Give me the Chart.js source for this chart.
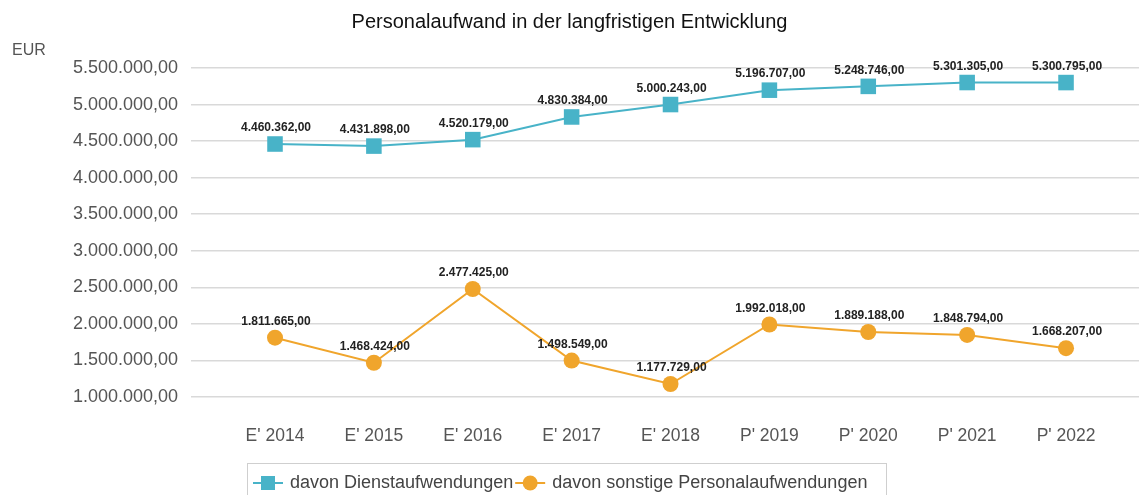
<!DOCTYPE html>
<html>
<head>
<meta charset="utf-8">
<script src="https://cdn.jsdelivr.net/npm/chart.js@4"></script>
<style>
  html, body { margin: 0; padding: 0; background: #fff; }
  #wrap { width: 1139px; height: 495px; }
</style>
</head>
<body>
<div id="wrap"><canvas id="lineChart" width="1139" height="495"></canvas></div>
<script>
// Kategorien und Werte
var jahre = ["E' 2014", "E' 2015", "E' 2016", "E' 2017", "E' 2018", "P' 2019", "P' 2020", "P' 2021", "P' 2022"];
var dienstaufwendungen = [4460362, 4431898, 4520179, 4830384, 5000243, 5196707, 5248746, 5301305, 5300795];
var sonstigePersonal = [1811665, 1468424, 2477425, 1498549, 1177729, 1992018, 1889188, 1848794, 1668207];
var serienNamen = ['davon Dienstaufwendungen', 'davon sonstige Personalaufwendungen'];

var FONT = "'Liberation Sans', Arial, sans-serif";
var TEAL = '#48b3c8';
var ORANGE = '#f0a52c';

function fmt(v) {
  return v.toLocaleString('de-DE', { minimumFractionDigits: 2, maximumFractionDigits: 2 });
}

// Werte als Label ueber die Punkte schreiben
var wertLabels = {
  id: 'wertLabels',
  afterDatasetsDraw: function (chart) {
    var ctx = chart.ctx;
    ctx.save();
    ctx.font = 'bold 12px ' + FONT;
    ctx.fillStyle = '#222';
    ctx.textAlign = 'center';
    ctx.textBaseline = 'middle';
    chart.data.datasets.forEach(function (ds, i) {
      var meta = chart.getDatasetMeta(i);
      meta.data.forEach(function (pt, j) {
        ctx.fillText(fmt(ds.data[j].y), pt.x + 1, pt.y - 16);
      });
    });
    ctx.restore();
  }
};

// EUR-Beschriftung und Legende mit Rahmen
var extras = {
  id: 'extras',
  afterDraw: function (chart) {
    var ctx = chart.ctx;
    ctx.save();
    ctx.font = '16px ' + FONT;
    ctx.fillStyle = '#555';
    ctx.textBaseline = 'middle';
    ctx.textAlign = 'left';
    ctx.fillText('EUR', 12, 51);

    // Legende
    ctx.font = '18px ' + FONT;
    var farben = [TEAL, ORANGE];
    var symW = 30, gap = 7, itemGap = 2;
    var x0 = 247, y = 483;
    ctx.strokeStyle = '#cfcfcf';
    ctx.lineWidth = 1;
    ctx.strokeRect(x0 + 0.5, 463.5, 639, 40);
    var x = x0 + 6;
    serienNamen.forEach(function (n, i) {
      ctx.strokeStyle = farben[i];
      ctx.fillStyle = farben[i];
      ctx.lineWidth = 2;
      ctx.beginPath();
      ctx.moveTo(x, y);
      ctx.lineTo(x + symW, y);
      ctx.stroke();
      if (i === 0) {
        ctx.fillRect(x + symW / 2 - 7, y - 7, 14, 14);
      } else {
        ctx.beginPath();
        ctx.arc(x + symW / 2, y, 7.5, 0, Math.PI * 2);
        ctx.fill();
      }
      ctx.fillStyle = '#444';
      ctx.fillText(n, x + symW + gap, y);
      x += symW + gap + ctx.measureText(n).width + itemGap;
    });
    ctx.restore();
  }
};

var lineChartCanvas = document.getElementById('lineChart').getContext('2d');

new Chart(lineChartCanvas, {
  type: 'line',
  data: {
    datasets: [
      {
        label: serienNamen[0],
        data: dienstaufwendungen.map(function (v, i) { return { x: i, y: v }; }),
        borderColor: TEAL,
        backgroundColor: TEAL,
        borderWidth: 2,
        pointStyle: 'rect',
        pointRadius: 11,
        pointHoverRadius: 11,
        pointBorderWidth: 0,
        tension: 0,
        clip: false
      },
      {
        label: serienNamen[1],
        data: sonstigePersonal.map(function (v, i) { return { x: i, y: v }; }),
        borderColor: ORANGE,
        backgroundColor: ORANGE,
        borderWidth: 2,
        pointStyle: 'circle',
        pointRadius: 8,
        pointHoverRadius: 8,
        pointBorderWidth: 0,
        tension: 0,
        clip: false
      }
    ]
  },
  options: {
    responsive: false,
    animation: false,
    layout: { padding: 0, autoPadding: false },
    plugins: {
      legend: { display: false },
      tooltip: { enabled: false },
      title: {
        display: true,
        text: 'Personalaufwand in der langfristigen Entwicklung',
        color: '#111',
        font: { family: FONT, size: 20, weight: 'normal' },
        padding: { top: 10, bottom: 34 }
      }
    },
    scales: {
      x: {
        type: 'linear',
        min: -0.8496,
        max: 8.738,
        grid: { display: false },
        border: { display: false },
        afterFit: function (s) { s.height = 98; s.paddingLeft = 0; s.paddingRight = 0; },
        ticks: {
          stepSize: 1,
          includeBounds: false,
          autoSkip: false,
          maxRotation: 0,
          padding: 21,
          color: '#555',
          font: { family: FONT, size: 17.5 },
          callback: function (v) { return Number.isInteger(v) ? jahre[v] : ''; }
        }
      },
      y: {
        min: 1000000,
        max: 5500000,
        afterFit: function (s) { s.width = 191; },
        grid: { color: '#d9d9d9', lineWidth: 1.5, drawTicks: false },
        border: { display: false },
        ticks: {
          stepSize: 500000,
          padding: 13,
          color: '#555',
          font: { family: FONT, size: 18 },
          callback: function (v) { return fmt(v); }
        }
      }
    }
  },
  plugins: [wertLabels, extras]
});
</script>
</body>
</html>
